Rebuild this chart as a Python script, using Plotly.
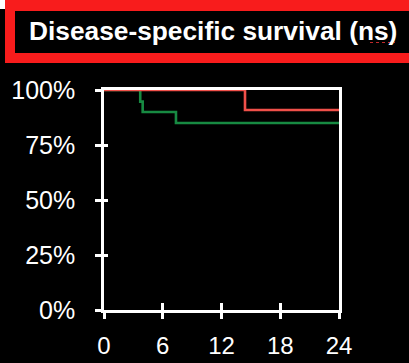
import plotly.graph_objects as go

# Kaplan-Meier style disease-specific survival, months vs. survival fraction
months_red = [0, 14.4, 24]
surv_red = [1.0, 0.909, 0.909]

months_green = [0, 3.7, 3.95, 7.35, 24]
surv_green = [1.0, 0.947, 0.90, 0.85, 0.85]

x_ticks = [0, 6, 12, 18, 24]
y_ticks = [0, 0.25, 0.5, 0.75, 1.0]
y_tick_labels = ["0%", "25%", "50%", "75%", "100%"]

title_text = "Disease-specific survival (ns)"

W, H = 409, 363
L, R, T, B = 104, 70, 90, 53
PW, PH = W - L - R, H - T - B


def px_x(px):
    return (px - L) / PW


def px_y(py):
    return (H - B - py) / PH


def px_rect(x0, y0, x1, y1, color):
    fig.add_shape(type="rect", xref="paper", yref="paper",
                  x0=px_x(x0), x1=px_x(x1), y0=px_y(y1), y1=px_y(y0),
                  fillcolor=color, line=dict(width=0), layer="above")


fig = go.Figure()
fig.add_trace(go.Scatter(x=months_green, y=surv_green, mode="lines",
                         line=dict(shape="hv", color="#178a42", width=2.6),
                         showlegend=False, hoverinfo="skip"))
fig.add_trace(go.Scatter(x=months_red, y=surv_red, mode="lines",
                         line=dict(shape="hv", color="#f0504a", width=2.6),
                         showlegend=False, hoverinfo="skip"))

family = "Liberation Sans, Arial, Helvetica, sans-serif"
xfont = dict(family=family, color="white", size=24)
yfont = dict(family=family, color="white", size=25)

fig.update_layout(
    width=W, height=H,
    margin=dict(l=L, r=R, t=T, b=B, autoexpand=False),
    paper_bgcolor="black", plot_bgcolor="black",
    font=xfont,
    xaxis=dict(range=[0, 24], tickvals=x_ticks, ticktext=[str(v) for v in x_ticks],
               showgrid=False, zeroline=False, showline=True, linecolor="white",
               linewidth=2.5, mirror=True, ticks="outside", ticklen=6, tickwidth=2.5,
               tickcolor="white", ticklabelstandoff=6, tickfont=xfont, automargin=False),
    yaxis=dict(range=[0, 1], tickvals=y_ticks, ticktext=y_tick_labels,
               showgrid=False, zeroline=False, showline=True, linecolor="white",
               linewidth=2.5, mirror=True, ticks="outside", ticklen=6, tickwidth=2.5,
               tickcolor="white", ticklabelstandoff=15, tickfont=yfont, automargin=False),
    # overlay axes give the inner half of the crossing tick marks
    xaxis2=dict(range=[0, 24], overlaying="x", side="bottom", tickvals=x_ticks,
                showticklabels=False, ticks="inside", ticklen=7, tickwidth=2.5,
                tickcolor="white", showgrid=False, zeroline=False, showline=False,
                automargin=False),
    yaxis2=dict(range=[0, 1], overlaying="y", side="left", tickvals=y_ticks,
                showticklabels=False, ticks="inside", ticklen=4, tickwidth=2.5,
                tickcolor="white", showgrid=False, zeroline=False, showline=False,
                automargin=False),
    showlegend=False,
)

# dummy trace so the overlay axes are rendered
fig.add_trace(go.Scatter(x=[None], y=[None], xaxis="x2", yaxis="y2",
                         showlegend=False, hoverinfo="skip"))

# title frame: white corner, red bars on top, left and bottom
frame_red = "#f81c1c"
px_rect(0, 0, 5, 9, "white")
px_rect(5, 0, 409, 11, frame_red)
px_rect(5, 0, 15, 63, frame_red)
px_rect(5, 53, 409, 63, frame_red)

fig.add_annotation(text="<b>" + title_text + "</b>", xref="paper", yref="paper",
                   x=px_x(27), y=px_y(31), xanchor="left", yanchor="middle",
                   showarrow=False,
                   font=dict(family=family, size=26.3, color="white"))

# spell-check squiggle under "ns"
fig.add_shape(type="line", xref="paper", yref="paper",
              x0=px_x(370), x1=px_x(395), y0=px_y(42.5), y1=px_y(42.5),
              line=dict(color="#c0282a", width=1, dash="dot"), layer="above")

fig.write_html("out.html")
